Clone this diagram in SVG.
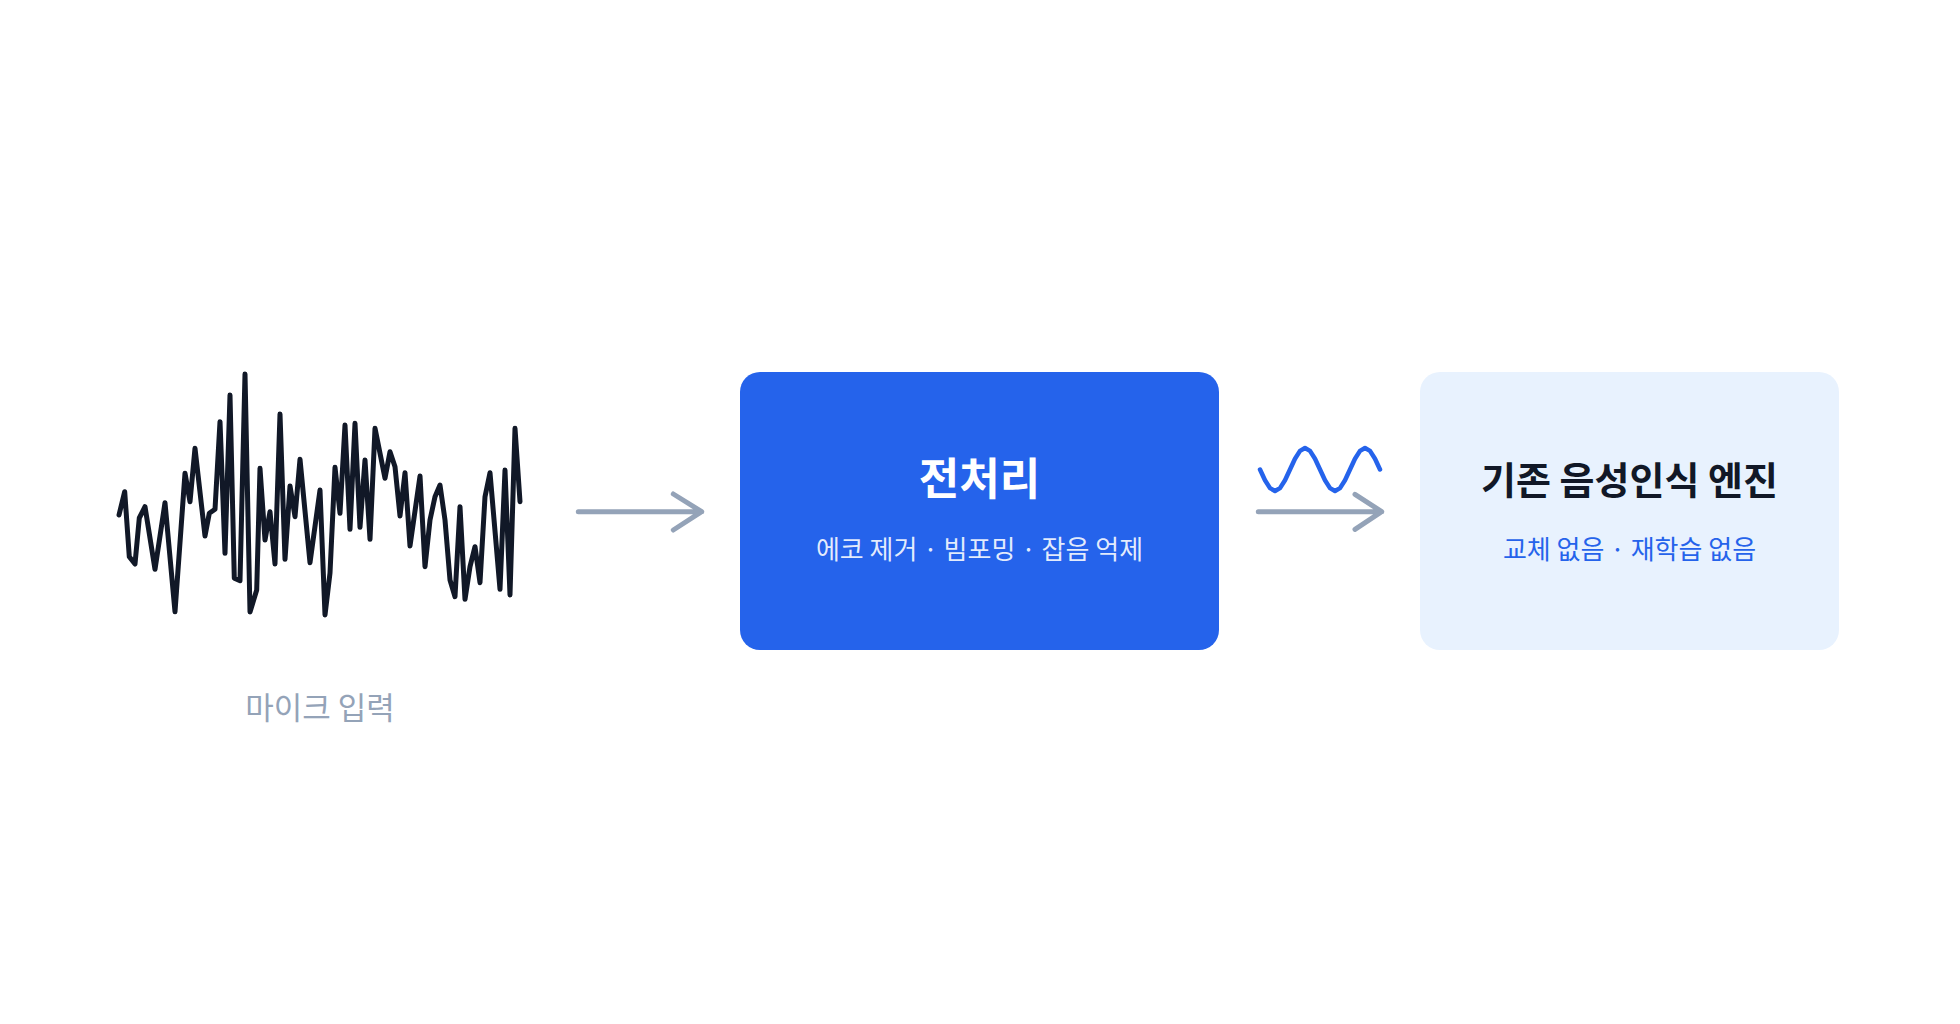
<svg xmlns="http://www.w3.org/2000/svg" width="1960" height="1024" viewBox="0 0 1960 1024">
<style>
.arrow{fill:none;stroke:#94a3b8;stroke-width:5;stroke-linecap:round;stroke-linejoin:round}
.wave{fill:none;stroke:#111827;stroke-width:5;stroke-linejoin:round;stroke-linecap:round}
.sine{fill:none;stroke:#2563eb;stroke-width:4.5;stroke-linejoin:round;stroke-linecap:round}
text{font-family:"Noto Sans CJK KR","Noto Sans",sans-serif;text-anchor:middle}
.lbl{font-size:31px;fill:#94a3b8}
.t1{font-size:44px;font-weight:700;fill:#ffffff}
.s1{font-size:26px;fill:#ffffff;fill-opacity:0.88}
.t2{font-size:38px;font-weight:700;fill:#111827}
.s2{font-size:26px;fill:#2563eb}
</style>
<rect width="1960" height="1024" fill="#ffffff"/>
<g id="mic-input">
<polyline class="wave" points="119,515 124.7,491.7 129.3,556.7 135,564 139.3,518 145,506.7 155,569.3 165,502.7 175,611.7 185,473.3 190,501.7 195,448.3 205,536 209.3,513.3 215,509.3 220,421.7 225,553.3 230,395 234.3,578.3 240,580.7 245,374 250,612 256.7,590 260,468.3 265,540 270,511.7 275,564 280,414 285,559.3 290,486 295,516.7 300,459.3 310,562.7 320,490 325,615 330,573 335,467.3 340,513.3 345,425 350,529.3 355,423.3 360,527.3 365,460 370,539.3 375,428.3 385,478.3 390,451.7 395,466.7 400,516 405,472.7 410,546 420,476 425,566.7 430,520 435,496.7 440,485 445,520 450,580 455,596.7 460,506.7 465,599.3 470,566.7 475,546.7 480,582.7 485,496.7 490,472.7 500,589.3 505,470 510,595 515,428.3 520,501.7"/>
<text class="lbl" x="320" y="719">마이크 입력</text>
</g>
<g id="preprocess">
<rect x="740" y="372" width="479" height="278" rx="20" fill="#2563eb"/>
<text class="t1" x="979.5" y="495">전처리</text>
<text class="s1" x="979.5" y="559">에코 제거 · 빔포밍 · 잡음 억제</text>
</g>
<g id="asr-engine">
<rect x="1420" y="372" width="419" height="278" rx="20" fill="#e8f2fe"/>
<text class="t2" x="1629.5" y="494">기존 음성인식 엔진</text>
<text class="s2" x="1629.5" y="559">교체 없음 · 재학습 없음</text>
</g>
<g id="connectors">
<path class="arrow" d="M578.3,511.7 H701.7 M673.3,494 L701.7,511.7 L673.3,530"/>
<path class="arrow" d="M1258.3,511.7 H1381.7 M1355,494.3 L1381.7,511.7 L1355,529.3"/>
<polyline class="sine" points="1260,469.5 1265,480.25 1270,488.1 1275,491 1280,488.1 1285,480.25 1290,469.5 1295,458.75 1300,450.9 1305,448 1310,450.9 1315,458.75 1320,469.5 1325,480.25 1330,488.1 1335,491 1340,488.1 1345,480.25 1350,469.5 1355,458.75 1360,450.9 1365,448 1370,450.9 1375,458.75 1380,469.5"/>
</g>
</svg>
